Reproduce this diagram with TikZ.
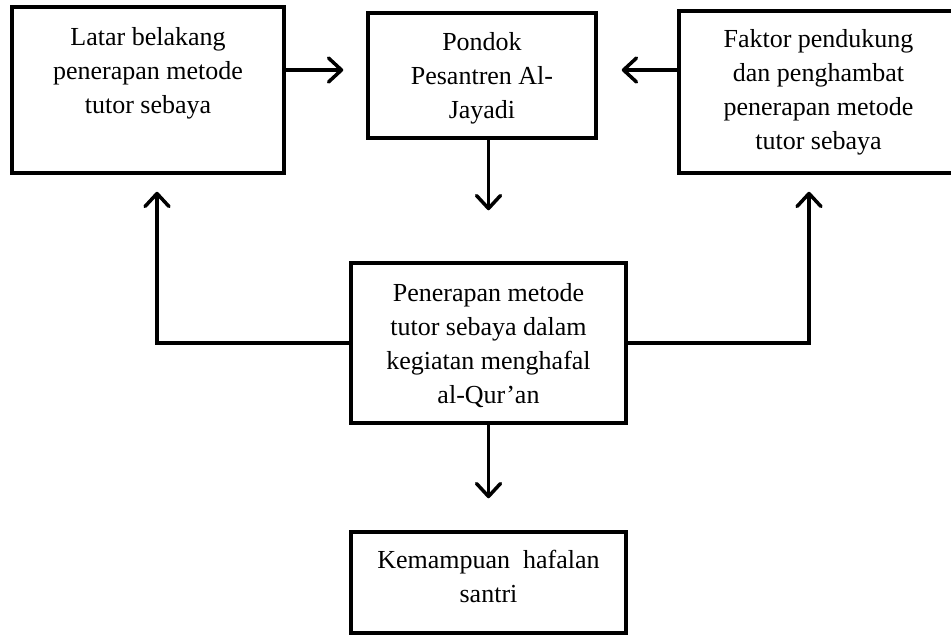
\documentclass[tikz,border=0pt]{standalone}
\usepackage{fontspec}
\setmainfont{Liberation Serif}
\usetikzlibrary{arrows.meta}
\tikzset{
  blok/.style={draw, line width=3.5pt, align=center, inner sep=0pt,
               font=\fontsize{26}{34}\selectfont},
  panah/.style={line width=3.5pt, -{Straight Barb[length=13pt,width=24pt,round]}},
  }

\begin{document}
\begin{tikzpicture}[x=1pt,y=-1pt]
  \useasboundingbox (0,0) rectangle (951,635);

  % boxes
  \node[blok, minimum width=272pt, minimum height=166pt, text depth=39pt] (latar) at (148,90)
       {Latar belakang\\penerapan metode\\tutor sebaya};
  \node[blok, minimum width=228pt, minimum height=125pt, text height=92pt] (pondok) at (482,75.5)
       {Pondok\\Pesantren Al-\\Jayadi};
  \node[blok, minimum width=279pt, minimum height=162pt] (faktor) at (818.5,92)
       {Faktor pendukung\\dan penghambat\\penerapan metode\\tutor sebaya};
  \node[blok, minimum width=275pt, minimum height=160pt, text height=126pt] (terap) at (488.5,343)
       {Penerapan metode\\tutor sebaya dalam\\kegiatan menghafal\\al-Qur’an};
  \node[blok, minimum width=275pt, minimum height=101pt, text depth=12pt] (hafalan) at (488.5,582.5)
       {Kemampuan~ hafalan\\santri};

  % arrows
  \coordinate (k1) at ([yshift=5.5pt]pondok.west);
  \draw[panah, shorten >=23pt] (latar.east |- k1) -- (k1);
  \draw[panah, shorten >=24pt] (faktor.west |- k1) -- (pondok.east |- k1);
  \draw[panah, shorten >=51pt] (pondok.south -| terap.north) -- (terap.north);
  \draw[panah, shorten >=17pt] (terap.west) -| ([xshift=9pt]latar.south);
  \draw[panah, shorten >=17pt] (terap.east) -| ([xshift=-9.5pt]faktor.south);
  \draw[panah, shorten >=32pt] (terap.south) -- (hafalan.north);
\end{tikzpicture}
\end{document}
